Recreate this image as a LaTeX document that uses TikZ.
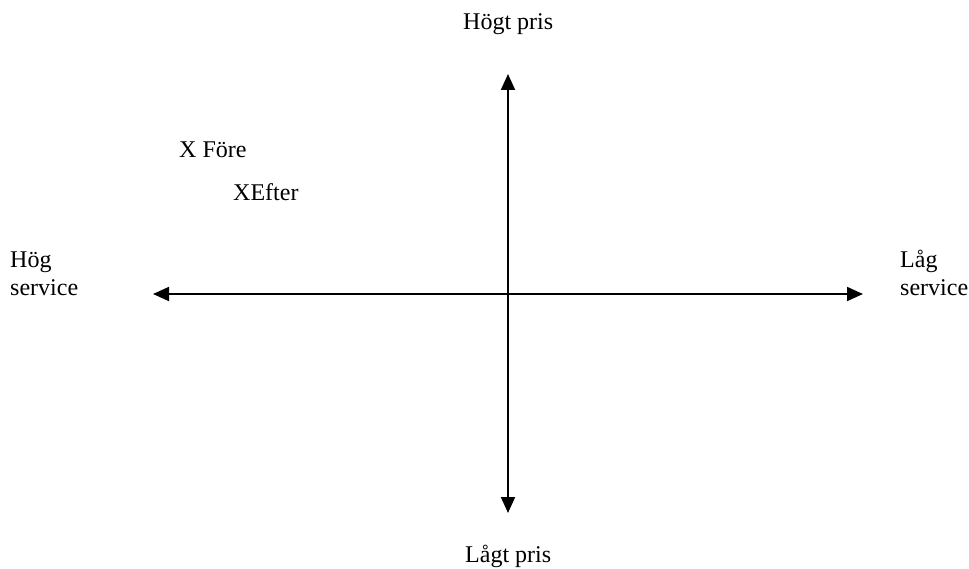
\documentclass[tikz,border=0pt]{standalone}
\usepackage{fontspec}
\setmainfont{Liberation Serif}
\usetikzlibrary{arrows.meta}
\begin{document}
\begin{tikzpicture}[x=1pt,y=-1pt,
  axis/.style={line width=1.8pt,{Triangle[length=16pt,width=14pt]}-{Triangle[length=16pt,width=14pt]}},
  lbl/.style={inner sep=0pt,anchor=base west,font=\fontsize{24}{27}\selectfont}]
\useasboundingbox (0,0) rectangle (969,569);
\coordinate (top) at (508,74);
\coordinate (bot) at (508,513);
\coordinate (left) at (153,294);
\coordinate (right) at (863,294);
\draw[axis] (bot) -- (top);
\draw[axis] (left) -- (right);
\node[lbl] (hp) at (463,30) {Högt pris};
\node[lbl] (lp) at (465,562) {Lågt pris};
\node[lbl] (fore) at (179,158) {X Före};
\node[lbl] (efter) at (233,201) {XEfter};
\node[lbl] (hs1) at (10,268) {Hög};
\node[lbl] (hs2) at (10,295) {service};
\node[lbl] (ls1) at (900,268) {Låg};
\node[lbl] (ls2) at (900,295) {service};
\end{tikzpicture}
\end{document}
